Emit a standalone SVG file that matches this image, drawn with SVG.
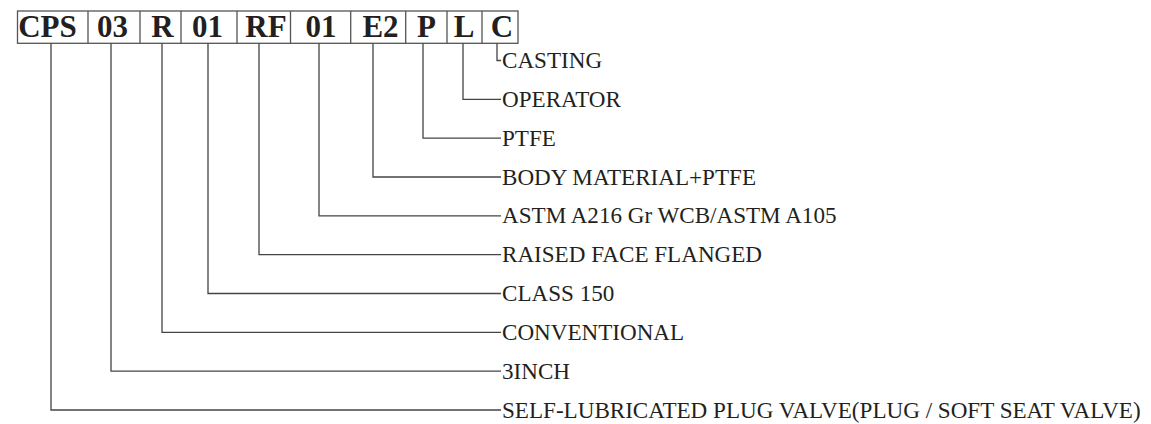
<svg xmlns="http://www.w3.org/2000/svg" width="1151" height="424" viewBox="0 0 1151 424">
<style>
.box{fill:none;stroke:#555;stroke-width:1.3}
.code{font-family:"Liberation Serif","Times New Roman",serif;font-weight:bold;font-size:31px;fill:#231f20;text-anchor:middle}
.lbl{font-family:"Liberation Serif","Times New Roman",serif;font-size:23.1px;fill:#231f20}
.con{fill:none;stroke:#444;stroke-width:1.3}
</style>
<rect width="1151" height="424" fill="#fff"/>
<g id="code-row">
<rect class="box" x="17.5" y="11" width="500.5" height="32.3"/>
<path class="box" d="M88,11V43.3M140,11V43.3M181,11V43.3M237,11V43.3M290.5,11V43.3M350.7,11V43.3M405.7,11V43.3M447,11V43.3M482,11V43.3"/>
<text class="code" x="47.5" y="37">CPS</text>
<text class="code" x="112.5" y="37">03</text>
<text class="code" x="162.5" y="37">R</text>
<text class="code" x="207.5" y="37">01</text>
<text class="code" x="266" y="37">RF</text>
<text class="code" x="321" y="37">01</text>
<text class="code" x="380.5" y="37">E2</text>
<text class="code" x="426.5" y="37">P</text>
<text class="code" x="464" y="37">L</text>
<text class="code" x="502" y="37">C</text>
</g>
<g id="connectors">
<path class="con" d="M497,43.3V60.5H501"/>
<path class="con" d="M463,43.3V99.3H501"/>
<path class="con" d="M423,43.3V138.2H501"/>
<path class="con" d="M373,43.3V177H501"/>
<path class="con" d="M319,43.3V215.8H501"/>
<path class="con" d="M259,43.3V254.7H501"/>
<path class="con" d="M208,43.3V293.5H501"/>
<path class="con" d="M162,43.3V332.3H501"/>
<path class="con" d="M111,43.3V371.2H501"/>
<path class="con" d="M51,43.3V410H501"/>
</g>
<g id="labels">
<text id="casting" class="lbl" x="502" y="68">CASTING</text>
<text id="operator" class="lbl" x="502" y="106.8">OPERATOR</text>
<text id="ptfe" class="lbl" x="502" y="145.7">PTFE</text>
<text id="body" class="lbl" x="502" y="184.5">BODY MATERIAL+PTFE</text>
<text id="astm" class="lbl" x="502" y="223.3">ASTM A216 Gr WCB/ASTM A105</text>
<text id="raised" class="lbl" x="502" y="262.2">RAISED FACE FLANGED</text>
<text id="class" class="lbl" x="502" y="301">CLASS 150</text>
<text id="conv" class="lbl" x="502" y="339.8">CONVENTIONAL</text>
<text id="size" class="lbl" x="502" y="378.7">3INCH</text>
<text id="type" class="lbl" x="502" y="417.5">SELF-LUBRICATED PLUG VALVE(PLUG / SOFT SEAT VALVE)</text>
</g>
</svg>
